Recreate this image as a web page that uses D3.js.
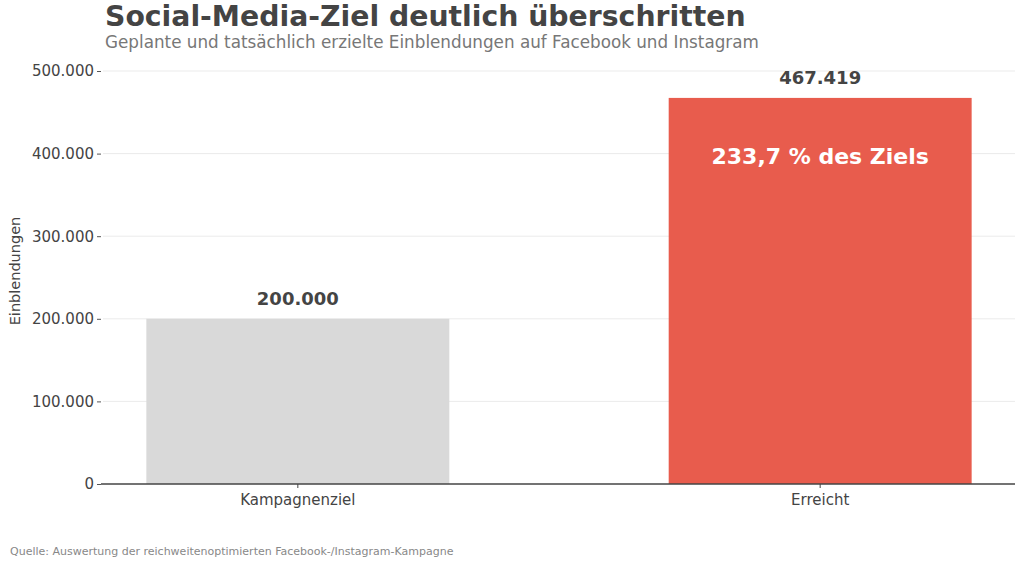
<!DOCTYPE html>
<html>
<head>
<meta charset="utf-8">
<script src="https://cdn.jsdelivr.net/npm/d3@7"></script>
<style>
  body { margin: 0; background: #fff; }
  svg, svg text { font-family: "DejaVu Sans", sans-serif; }
</style>
</head>
<body>
<div id="chart"></div>
<script>
var categories = ["Kampagnenziel", "Erreicht"];
var values = [200000, 467419];
var barColors = ["#d9d9d9", "#e85c4d"];
var yTicks = [0, 100000, 200000, 300000, 400000, 500000];
var insideLabel = "233,7 % des Ziels";

var W = 1024, H = 567;
var margin = {left: 103, right: 9, top: 71, bottom: 83};

var de = d3.formatLocale({decimal: ",", thousands: ".", grouping: [3], currency: ["", " €"]});
var fmt = de.format(",.0f");

var svg = d3.select("#chart").append("svg").attr("width", W).attr("height", H);

var x = d3.scaleBand().domain(categories)
    .range([margin.left, W - margin.right])
    .paddingInner(0.42).paddingOuter(0.083);
var y = d3.scaleLinear().domain([0, 500000]).range([H - margin.bottom, margin.top]);

// grid
svg.append("g").selectAll("line").data(yTicks.slice(1)).enter().append("line")
    .attr("x1", margin.left).attr("x2", W - margin.right)
    .attr("y1", function (d) { return y(d); }).attr("y2", function (d) { return y(d); })
    .style("stroke", "#ebebeb").style("stroke-width", 1);

// y axis
var yAxis = svg.append("g").attr("transform", "translate(" + (margin.left - 2) + ",0)")
    .call(d3.axisLeft(y).tickValues(yTicks).tickFormat(fmt).tickSize(4).tickPadding(3));
yAxis.attr("font-family", null);
yAxis.select(".domain").remove();
yAxis.selectAll("line").style("stroke", "#555");
yAxis.selectAll("text").style("font-size", "15px").style("fill", "#444");

// bars
svg.append("g").selectAll("rect").data(values).enter().append("rect")
    .attr("x", function (d, i) { return x(categories[i]); })
    .attr("width", x.bandwidth())
    .attr("y", function (d) { return y(d); })
    .attr("height", function (d) { return y(0) - y(d); })
    .style("fill", function (d, i) { return barColors[i]; });

// x axis
var xAxis = svg.append("g").attr("transform", "translate(0," + y(0) + ")")
    .call(d3.axisBottom(x).tickSize(4).tickPadding(6).tickSizeOuter(0));
xAxis.attr("font-family", null);
xAxis.select(".domain").style("stroke", "#444").style("stroke-width", 1.3)
    .attr("d", "M" + (margin.left - 2) + ",0H" + (W - margin.right));
xAxis.selectAll("line").style("stroke", "#444");
xAxis.selectAll("text").style("font-size", "15px").style("fill", "#444");

// value labels
svg.append("g").selectAll("text").data(values).enter().append("text")
    .attr("x", function (d, i) { return x(categories[i]) + x.bandwidth() / 2; })
    .attr("y", function (d) { return y(d) - 14; })
    .attr("text-anchor", "middle")
    .style("font-size", "18px").style("font-weight", "bold").style("fill", "#444")
    .text(function (d) { return fmt(d); });

svg.append("text")
    .attr("x", x(categories[1]) + x.bandwidth() / 2)
    .attr("y", y(values[1]) + 66)
    .attr("text-anchor", "middle")
    .style("font-size", "22px").style("font-weight", "bold").style("fill", "#fff")
    .text(insideLabel);

// y title
svg.append("text")
    .attr("transform", "translate(20,271) rotate(-90)")
    .attr("text-anchor", "middle")
    .style("font-size", "14.5px").style("fill", "#444")
    .text("Einblendungen");

// titles
svg.append("text").attr("x", 105).attr("y", 26)
    .style("font-size", "28.3px").style("font-weight", "bold").style("fill", "#444")
    .text("Social-Media-Ziel deutlich überschritten");
svg.append("text").attr("x", 105).attr("y", 48)
    .style("font-size", "16.8px").style("fill", "#777")
    .text("Geplante und tatsächlich erzielte Einblendungen auf Facebook und Instagram");

svg.append("text").attr("x", 10).attr("y", 555)
    .style("font-size", "11px").style("fill", "#888")
    .text("Quelle: Auswertung der reichweitenoptimierten Facebook-/Instagram-Kampagne");
</script>
</body>
</html>
